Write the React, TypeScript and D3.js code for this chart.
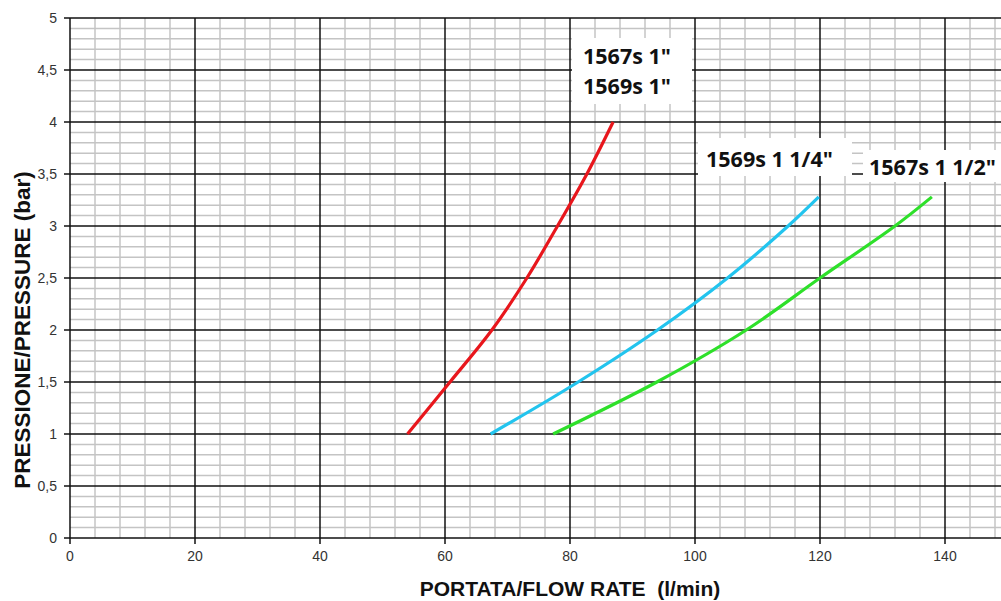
import React from "react";
import * as d3 from "d3";

const xTicks = [0, 20, 40, 60, 80, 100, 120, 140];
const yTicks = [0, 0.5, 1, 1.5, 2, 2.5, 3, 3.5, 4, 4.5, 5];
const yTickLabels = ["0", "0,5", "1", "1,5", "2", "2,5", "3", "3,5", "4", "4,5", "5"];

const redFlow = [54, 60.8, 67.5, 73.1, 78, 82.7, 86.9];
const redPressure = [1, 1.5, 2, 2.5, 3, 3.5, 4];
const blueFlow = [67.3, 81.3, 94, 105.2, 114.9, 119.8];
const bluePressure = [1, 1.5, 2, 2.5, 3, 3.28];
const greenFlow = [77.3, 93.9, 108.2, 120, 132, 137.9];
const greenPressure = [1, 1.5, 2, 2.5, 3, 3.28];

const seriesNames = ['1567s 1"\n1569s 1"', '1569s 1 1/4"', '1567s 1 1/2"'];

const W = 1001;
const H = 601;

export default function App() {
  const x = d3.scaleLinear().domain([0, 150]).range([70, 1007.5]);
  const y = d3.scaleLinear().domain([0, 5]).range([538, 18]);

  const minorX = d3.range(0, 152, 4).filter((v) => v % 20 !== 0);
  const minorY = d3.range(0, 51, 1).map((v) => v / 10).filter((v) => Math.round(v * 10) % 5 !== 0);
  const majorX = d3.range(20, 160, 20);
  const majorY = yTicks;

  const line = d3
    .line<[number, number]>()
    .x((d) => x(d[0]))
    .y((d) => y(d[1]))
    .curve(d3.curveCatmullRom.alpha(0.5));

  const series = [
    { flow: redFlow, p: redPressure, color: "#e8161c" },
    { flow: blueFlow, p: bluePressure, color: "#22c4ee" },
    { flow: greenFlow, p: greenPressure, color: "#2ee02a" },
  ];

  const labelFont = "'Open Sans', 'DejaVu Sans', sans-serif";
  const axisFont = "'Liberation Sans', Arial, sans-serif";

  return (
    <svg
      width={W}
      height={H}
      style={{ position: "absolute", left: 0, top: 0, background: "#fff" }}
    >
      <rect x={0} y={0} width={W} height={H} fill="#fff" />
      {minorX.map((v) => (
        <line key={"mx" + v} x1={x(v)} x2={x(v)} y1={y(5)} y2={y(0)} stroke="#c4c4c4" strokeWidth={1.5} />
      ))}
      {minorY.map((v) => (
        <line key={"my" + v} x1={x(0)} x2={W} y1={y(v)} y2={y(v)} stroke="#c4c4c4" strokeWidth={1.5} />
      ))}
      {majorX.map((v) => (
        <line key={"Mx" + v} x1={x(v)} x2={x(v)} y1={y(5)} y2={y(0) + 6} stroke="#111" strokeWidth={1.5} />
      ))}
      {majorY.map((v) => (
        <line key={"My" + v} x1={x(0) - 6} x2={W} y1={y(v)} y2={y(v)} stroke="#111" strokeWidth={1.5} />
      ))}
      <line x1={x(0)} x2={x(0)} y1={y(5)} y2={y(0) + 6} stroke="#111" strokeWidth={1.5} />

      {yTicks.map((v, i) => (
        <text key={"yt" + v} x={57} y={y(v) + 5} textAnchor="end" fontFamily={axisFont} fontSize={14} fill="#333">
          {yTickLabels[i]}
        </text>
      ))}
      {xTicks.map((v) => (
        <text key={"xt" + v} x={x(v)} y={561} textAnchor="middle" fontFamily={axisFont} fontSize={14} fill="#333">
          {v}
        </text>
      ))}

      <text x={570} y={596} textAnchor="middle" fontFamily={axisFont} fontWeight="bold" fontSize={21} fill="#111">
        PORTATA/FLOW RATE{"\u00a0\u00a0"}(l/min)
      </text>
      <text
        transform={`translate(30,${330}) rotate(-90)`}
        textAnchor="middle"
        fontFamily={axisFont}
        fontWeight="bold"
        fontSize={22.5}
        fill="#111"
      >
        PRESSIONE/PRESSURE (bar)
      </text>

      {series.map((s, i) => (
        <path
          key={"s" + i}
          d={line(s.flow.map((f, j) => [f, s.p[j]] as [number, number])) || ""}
          fill="none"
          stroke={s.color}
          strokeWidth={3.2}
          strokeLinecap="butt"
        />
      ))}

      <rect x={572} y={38} width={120} height={66} fill="#fff" />
      <text x={583} y={64} fontFamily={labelFont} fontWeight="bold" fontSize={21.5} fill="#111">
        {seriesNames[0].split("\n")[0]}
      </text>
      <text x={583} y={94} fontFamily={labelFont} fontWeight="bold" fontSize={21.5} fill="#111">
        {seriesNames[0].split("\n")[1]}
      </text>
      <rect x={698} y={138} width={154} height={38} fill="#fff" />
      <text x={706} y={167} fontFamily={labelFont} fontWeight="bold" fontSize={21.5} fill="#111">
        {seriesNames[1]}
      </text>
      <rect x={863} y={150} width={140} height={32} fill="#fff" />
      <text x={869} y={175} fontFamily={labelFont} fontWeight="bold" fontSize={21.5} fill="#111">
        {seriesNames[2]}
      </text>
    </svg>
  );
}
